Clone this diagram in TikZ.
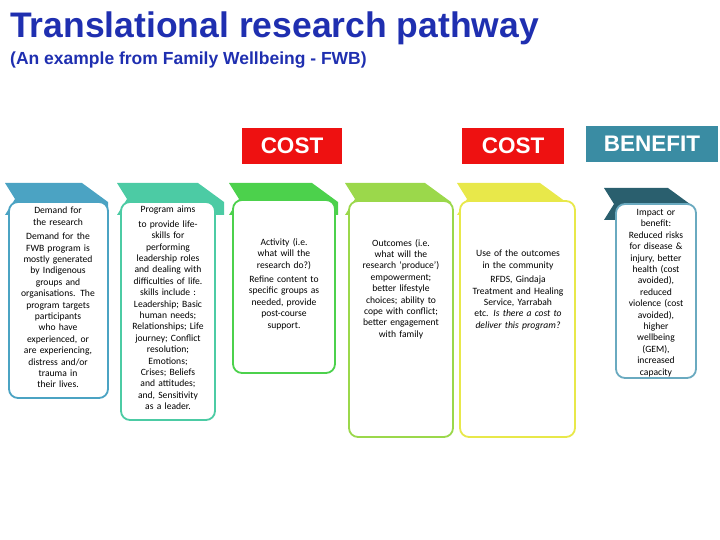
\documentclass[tikz,border=0pt]{standalone}
\usepackage{fontspec}
\setmainfont{Carlito}
\newfontfamily\hf{Liberation Sans}
\definecolor{c1}{HTML}{4BA3C3}
\definecolor{c2}{HTML}{4CCBA4}
\definecolor{c3}{HTML}{4CD14C}
\definecolor{c4}{HTML}{9BD84B}
\definecolor{c5}{HTML}{E8E84A}
\definecolor{c6}{HTML}{2A5F6E}
\definecolor{c6b}{HTML}{6AAAC0}
\definecolor{tblue}{HTML}{1F2FB0}
\definecolor{cred}{HTML}{EE1111}
\definecolor{bteal}{HTML}{3A8CA3}
\tikzset{
 col/.style={draw=#1,line width=1.8pt,rounded corners=9pt,fill=white},
 txt/.style={align=center,font=\fontsize{9.6}{11.4}\selectfont,inner sep=0pt,
   execute at begin node={\hyphenpenalty=10000\relax\exhyphenpenalty=10000\relax}},
 hdr/.style={fill=#1,text=white,font=\hf\bfseries\fontsize{22.5}{22}\selectfont,inner sep=0pt}
}
\newcommand\tabshape[4]{% left topright top color
 \fill[#4] (#1,#3) -- (#2,#3) -- (#2+26,#3+19) -- (#2+26,#3+32) -- (#1,#3+32) -- (#1+10,#3+16) -- cycle;}
\begin{document}
\begin{tikzpicture}[x=1pt,y=-1pt]
\useasboundingbox (0,0) rectangle (720,540);
\node[anchor=west,text=tblue,font=\hf\bfseries\fontsize{35.5}{35}\selectfont,inner sep=0pt] (title) at (10,28) {Translational research pathway};
\node[anchor=west,text=tblue,font=\hf\bfseries\fontsize{17.5}{18}\selectfont,inner sep=0pt] (sub) at (10,60) {(An example from Family Wellbeing - FWB)};
\node[hdr=cred,minimum width=100pt,minimum height=36pt] (cost1) at (292,146) {COST};
\node[hdr=cred,minimum width=102pt,minimum height=36pt] (cost2) at (513,146) {COST};
\node[hdr=bteal,minimum width=132pt,minimum height=36pt] (ben) at (652,144) {BENEFIT};
\tabshape{5}{82}{183}{c1}
\tabshape{117}{198}{183}{c2}
\tabshape{229}{312}{183}{c3}
\tabshape{345}{425}{183}{c4}
\tabshape{457}{540}{183}{c5}
\tabshape{604}{668}{188}{c6}
\draw[col=c1] (9,202) rectangle (108,398);
\draw[col=c2] (121,202) rectangle (215,420);
\draw[col=c3] (233,200) rectangle (335,373);
\draw[col=c4] (349,201) rectangle (453,437);
\draw[col=c5] (460,201) rectangle (575,437);
\draw[col=c6b] (616,204) rectangle (696,378);
\node[txt,text width=76pt,anchor=north] (t1) at (58,207) {Demand for the research\\[3pt]Demand for the FWB program is mostly generated by Indigenous groups and organisations. The program targets participants who have experienced, or are experiencing, distress and/or trauma in their lives.};
\node[txt,text width=74pt,anchor=north] (t2) at (168,206) {Program aims\\[3pt]to provide life-\\skills for performing leadership roles and dealing with difficulties of life. skills include : Leadership; Basic human needs; Relationships; Life journey; Conflict resolution; Emotions; Crises; Beliefs and attitudes; and, Sensitivity as a leader.};
\node[txt,text width=78pt] (t3) at (284,284) {Activity (i.e. what will the research do?)\\[3pt]Refine content to specific groups as needed, provide post-course support.};
\node[txt,text width=86pt] (t4) at (401,289) {Outcomes (i.e. what will the research ‘produce’) empowerment; better lifestyle choices; ability to cope with conflict; better engagement with family};
\node[txt,text width=92pt] (t5) at (518,290) {Use of the outcomes in the community\\[3pt]RFDS, Gindaja Treatment and Healing Service, Yarrabah etc. \textit{Is there a cost to deliver this program?}};
\node[txt,text width=62pt] (t6) at (656,293) {Impact or benefit: Reduced risks for disease \& injury, better health (cost avoided), reduced violence (cost avoided), higher wellbeing (GEM), increased capacity};
\end{tikzpicture}
\end{document}
